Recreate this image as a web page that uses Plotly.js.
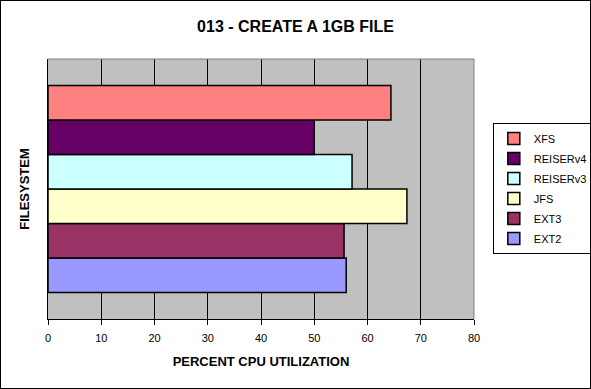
<!DOCTYPE html>
<html>
<head>
<meta charset="utf-8">
<script src="https://cdn.plot.ly/plotly-3.0.1.min.js"></script>
<style>
  html, body { margin: 0; padding: 0; background: #fff; }
  #chart { width: 589px; height: 387px; border: 1px solid #000; }
</style>
</head>
<body>
<div id="chart"></div>
<script>
// Data (series order as in Excel: first series drawn at the bottom)
const category = ['FILESYSTEM'];
const seriesNames = ['EXT2', 'EXT3', 'JFS', 'REISERv3', 'REISERv4', 'XFS'];
const cpuPercent = [56.0, 55.6, 67.4, 57.1, 50.0, 64.4];
const seriesColors = ['#9999FF', '#993366', '#FFFFCC', '#CCFFFF', '#660066', '#FF8080'];
const xTicks = [0, 10, 20, 30, 40, 50, 60, 70, 80];

const FONT = 'Arial, "Liberation Sans", sans-serif';

const traces = seriesNames.map((name, i) => ({
  type: 'bar',
  orientation: 'h',
  name: name,
  y: category,
  x: [cpuPercent[i]],
  legendgroup: 'g' + i,
  legendrank: seriesNames.length - i,
  marker: { color: seriesColors[i], line: { color: '#000', width: 1.5 } },
  hoverinfo: 'x+name'
}));

const layout = {
  width: 589,
  height: 387,
  margin: { l: 47, r: 116, t: 58, b: 69 },
  paper_bgcolor: '#fff',
  plot_bgcolor: '#C0C0C0',
  barmode: 'group',
  bargap: 0.204,
  bargroupgap: 0,
  font: { family: FONT, color: '#000', size: 11 },
  title: {
    text: '<b>013 - CREATE A 1GB FILE</b>',
    font: { family: FONT, size: 16, color: '#000' },
    xref: 'container', x: 0.5, xanchor: 'center',
    yref: 'container', y: 0.934, yanchor: 'middle'
  },
  xaxis: {
    range: [0, 80],
    tickvals: xTicks,
    ticktext: xTicks.map(String),
    showgrid: true,
    gridcolor: '#000',
    gridwidth: 1,
    zeroline: false,
    showline: true,
    linecolor: '#000',
    linewidth: 1,
    ticks: 'outside',
    ticklen: 5,
    tickcolor: '#000',
    ticklabelstandoff: 4,
    tickfont: { family: FONT, size: 11, color: '#000' },
    fixedrange: true,
    automargin: false,
    title: {
      text: '<b>PERCENT CPU UTILIZATION</b>',
      font: { family: FONT, size: 13, color: '#000' },
      standoff: 13
    }
  },
  yaxis: {
    type: 'category',
    range: [-0.5, 0.5],
    showticklabels: false,
    showgrid: false,
    zeroline: false,
    showline: true,
    linecolor: '#000',
    linewidth: 1,
    ticks: '',
    fixedrange: true,
    automargin: false,
    title: {
      text: '<b>FILESYSTEM</b>',
      font: { family: FONT, size: 13, color: '#000' },
      standoff: 14
    }
  },
  showlegend: true,
  legend: {
    xref: 'container',
    x: 0.835, xanchor: 'left',
    yref: 'container',
    y: 0.685, yanchor: 'top',
    traceorder: 'grouped',
    tracegroupgap: 1,
    bgcolor: '#fff',
    bordercolor: '#000',
    borderwidth: 1,
    font: { family: FONT, size: 11, color: '#000' }
  },
  shapes: [
    { type: 'line', xref: 'paper', yref: 'paper', x0: 0, x1: 1, y0: 1, y1: 1,
      line: { color: '#808080', width: 1 } },
    { type: 'line', xref: 'paper', yref: 'paper', x0: 1, x1: 1, y0: 0, y1: 1,
      line: { color: '#808080', width: 1 } }
  ]
};

Plotly.newPlot('chart', traces, layout, { displayModeBar: false, staticPlot: true });
</script>
</body>
</html>
